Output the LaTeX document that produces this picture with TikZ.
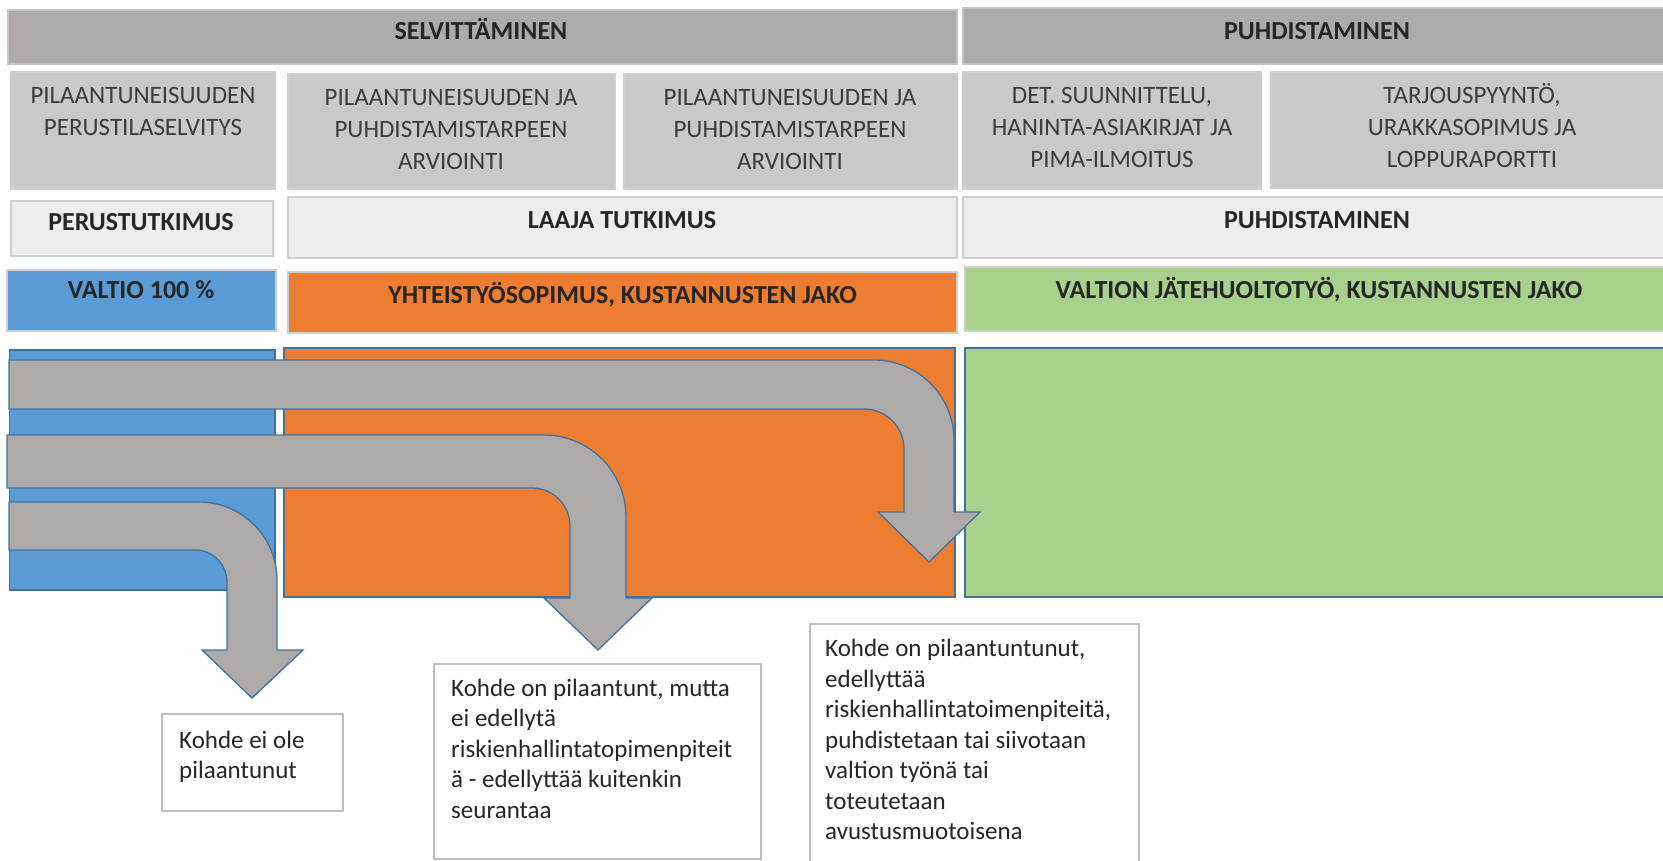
\documentclass[tikz,border=0pt]{standalone}
\usepackage{fontspec}
\setmainfont{Carlito}
\definecolor{hdr}{HTML}{AEAAAA}
\definecolor{hdrline}{HTML}{C6C6C6}
\definecolor{midgray}{HTML}{C9C9C9}
\definecolor{lightgray}{HTML}{EDEDED}
\definecolor{cellline}{HTML}{CFCFCF}
\definecolor{bluefill}{HTML}{5B9BD5}
\definecolor{orangefill}{HTML}{ED7D31}
\definecolor{greenfill}{HTML}{A9D18E}
\definecolor{edgeblue}{HTML}{41719C}
\definecolor{boxline}{HTML}{BFBFBF}
\definecolor{arrowgray}{HTML}{AEAAAA}
\definecolor{txt}{HTML}{262626}
\tikzset{
  cell/.style={draw=cellline, line width=2pt, inner sep=0pt, outer sep=0pt},
  hdrcell/.style={cell, fill=hdr, draw=hdrline},
  midcell/.style={cell, fill=midgray},
  lightcell/.style={cell, fill=lightgray},
  bigfill/.style={draw=edgeblue, line width=1.3pt, inner sep=0pt, outer sep=0pt},
  notebox/.style={draw=boxline, line width=1.5pt, fill=white, inner sep=0pt, outer sep=0pt},
  flowarrow/.style={fill=arrowgray, draw=edgeblue, line width=1.3pt, line join=miter},
  boldtxt/.style={font=\fontsize{26}{31.5}\selectfont\bfseries, text=txt, inner sep=0pt, anchor=base},
  regtxt/.style={font=\fontsize{25}{32}\selectfont, text=txt!90, inner sep=0pt, align=center, anchor=north},
  notetxt/.style={font=\fontsize{25}{30.5}\selectfont, text=txt, inner sep=0pt, align=left, anchor=north west},
}
\newcommand{\firstline}{\rule{0pt}{22pt}}
\begin{document}
\begin{tikzpicture}[x=1pt,y=-1pt]
\fill[white] (0,0) rectangle (1663,861);
\clip (0,0) rectangle (1663,861);
% row 1
\node[hdrcell, minimum width=949pt, minimum height=54pt] (h1) at (482.5,37) {};
\node[hdrcell, minimum width=708pt, minimum height=56pt] (h2) at (1317,36) {};
\node[boldtxt] (h1t) at (481,40) {SELVITTÄMINEN};
\node[boldtxt] (h2t) at (1317,39.5) {PUHDISTAMINEN};
% row 2
\node[midcell, minimum width=264pt, minimum height=117pt] (b1) at (143,130.5) {};
\node[midcell, minimum width=327pt, minimum height=115pt] (b2) at (451.5,131.5) {};
\node[midcell, minimum width=333pt, minimum height=115pt] (b3) at (790.5,131.5) {};
\node[midcell, minimum width=298pt, minimum height=117pt] (b4) at (1112,130.5) {};
\node[midcell, minimum width=400pt, minimum height=116pt] (b5) at (1471,130) {};
\node[regtxt] (b1t) at (143,81.5) {\firstline PILAANTUNEISUUDEN\\PERUSTILASELVITYS};
\node[regtxt] (b2t) at (451,83.5) {\firstline PILAANTUNEISUUDEN JA\\PUHDISTAMISTARPEEN\\ARVIOINTI};
\node[regtxt] (b3t) at (790,83.5) {\firstline PILAANTUNEISUUDEN JA\\PUHDISTAMISTARPEEN\\ARVIOINTI};
\node[regtxt] (b4t) at (1112,81.5) {\firstline DET. SUUNNITTELU,\\HANINTA-ASIAKIRJAT JA\\PIMA-ILMOITUS};
\node[regtxt] (b5t) at (1472,81.5) {\firstline TARJOUSPYYNTÖ,\\URAKKASOPIMUS JA\\LOPPURAPORTTI};
% row 3
\node[lightcell, minimum width=262pt, minimum height=55pt] (c1) at (142,228.5) {};
\node[lightcell, minimum width=669pt, minimum height=61pt] (c2) at (622.5,227.5) {};
\node[lightcell, minimum width=708pt, minimum height=61pt] (c3) at (1317,227.5) {};
\node[boldtxt] (c1t) at (141,231) {PERUSTUTKIMUS};
\node[boldtxt] (c2t) at (622,228.6) {LAAJA TUTKIMUS};
\node[boldtxt] (c3t) at (1317,228.6) {PUHDISTAMINEN};
% row 4
\node[cell, fill=bluefill, minimum width=269pt, minimum height=61pt] (d1) at (141.5,300.5) {};
\node[cell, fill=orangefill, minimum width=669pt, minimum height=61pt] (d2) at (622.5,302.5) {};
\node[cell, fill=greenfill, minimum width=706pt, minimum height=64pt] (d3) at (1318,299) {};
\node[boldtxt] (d1t) at (141,298.6) {VALTIO 100 \%};
\node[boldtxt] (d2t) at (622.5,303) {YHTEISTYÖSOPIMUS, KUSTANNUSTEN JAKO};
\node[boldtxt] (d3t) at (1319,298.6) {VALTION JÄTEHUOLTOTYÖ, KUSTANNUSTEN JAKO};
% row 5
\node[bigfill, fill=bluefill, minimum width=265.5pt, minimum height=240pt] (e1) at (142.25,470) {};
\node[bigfill, fill=orangefill, minimum width=671pt, minimum height=249pt] (e2) at (619.5,472.5) {};
\node[bigfill, fill=greenfill, minimum width=706pt, minimum height=249pt] (e3) at (1318,472.5) {};
% arrows
\path[flowarrow] (9,360) -- (874,360) .. controls (918.2,360) and (954,395.8) .. (954,440)
  -- (954,512) -- (980,512) -- (929,562) -- (878,512) -- (904,512) -- (904,449)
  .. controls (904,426.9) and (886.1,409) .. (864,409) -- (9,409) -- cycle;
\path[flowarrow] (7,435) -- (544,435) .. controls (589.3,435) and (626,471.7) .. (626,517)
  -- (626,598) -- (652,598) -- (598,650) -- (544,598) -- (570,598) -- (570,526)
  .. controls (570,505) and (553,488) .. (532,488) -- (7,488) -- cycle;
\path[flowarrow] (9,502) -- (199,502) .. controls (242.1,502) and (277,536.9) .. (277,580)
  -- (277,650) -- (303,650) -- (252,698) -- (202,650) -- (227,650) -- (227,582)
  .. controls (227,564.3) and (212.7,550) .. (195,550) -- (9,550) -- cycle;
% note boxes
\node[notebox, minimum width=181pt, minimum height=97pt] (t1) at (252.5,762.5) {};
\node[notebox, minimum width=327pt, minimum height=195pt] (t2) at (597.5,761.5) {};
\node[notebox, minimum width=329pt, minimum height=256pt] (t3) at (974.5,752) {};
\node[notetxt] (t1t) at (179,726) {\firstline Kohde ei ole\\pilaantunut};
\node[notetxt] (t2t) at (451,674) {\firstline Kohde on pilaantunt, mutta\\ei edellytä\\riskienhallintatopimenpiteit\\ä - edellyttää kuitenkin\\seurantaa};
\node[notetxt] (t3t) at (825,634.5) {\firstline Kohde on pilaantuntunut,\\edellyttää\\riskienhallintatoimenpiteitä,\\puhdistetaan tai siivotaan\\valtion työnä tai\\toteutetaan\\avustusmuotoisena};
\end{tikzpicture}
\end{document}
